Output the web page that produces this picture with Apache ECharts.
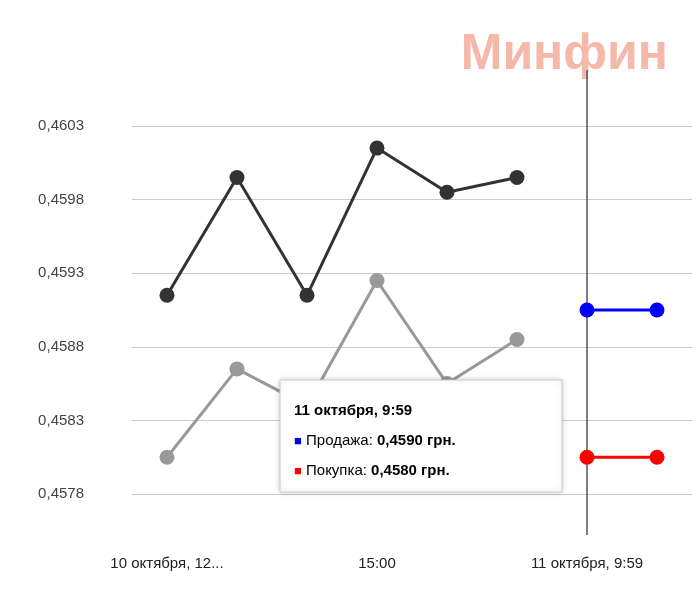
<!DOCTYPE html>
<html><head><meta charset="utf-8">
<script src="https://cdn.jsdelivr.net/npm/echarts@6/dist/echarts.min.js"></script>
<style>html,body{margin:0;padding:0;background:#fff}#c{width:700px;height:590px}</style>
</head><body><div id="c"></div>
<script>
const categories = ['10 октября, 12...', '', '', '15:00', '', '', '11 октября, 9:59', ''];
const seriesDark = [0.45915, 0.45995, 0.45915, 0.46015, 0.45985, 0.45995, null, null];
const seriesGray = [0.45805, 0.45865, 0.4584, 0.45925, 0.45855, 0.45885, null, null];
const sellValues = [null, null, null, null, null, null, 0.45905, 0.45905];
const buyValues = [null, null, null, null, null, null, 0.45805, 0.45805];
const yTicks = [0.4578, 0.4583, 0.4588, 0.4593, 0.4598, 0.4603];

const chart = echarts.init(document.getElementById('c'));
const mk = (data, color) => ({type:'line', data, connectNulls:false, symbol:'circle', symbolSize:15,
  lineStyle:{color, width:3}, itemStyle:{color}, animation:false});
chart.setOption({
  animation:false,
  grid:{left:132, right:8, top:126, bottom:96},
  xAxis:{type:'category', data:categories, boundaryGap:true,
    axisLine:{show:false}, axisTick:{show:false},
    axisLabel:{interval:0, margin:62, color:'#222', fontSize:15, fontFamily:'Arial'}},
  yAxis:{type:'value', min:yTicks[0], max:yTicks[yTicks.length-1], interval:0.0005,
    axisLabel:{color:'#444', fontSize:15, fontFamily:'Arial', margin:48,
      formatter:v=>v.toFixed(4).replace('.', ',')},
    splitLine:{lineStyle:{color:'#ccc', width:1}}},
  series:[mk(seriesGray,'#999999'), mk(seriesDark,'#333333'), mk(sellValues,'#0000ff'), mk(buyValues,'#ff0000')]
});
const x6 = chart.convertToPixel({xAxisIndex:0}, 6);
chart.setOption({graphic:[
  {type:'text', right:32, top:30, style:{text:'Минфин', fontSize:50, fontWeight:'bold', fontFamily:'Arial', fill:'#f6b8a8'}},
  {type:'line', shape:{x1:x6, y1:70, x2:x6, y2:535}, style:{stroke:'#555', lineWidth:1.5}, z:1},
  {type:'rect', shape:{x:280, y:380, width:282, height:112}, style:{fill:'#fff', stroke:'#ccc', lineWidth:1, shadowBlur:6, shadowColor:'rgba(0,0,0,0.2)'}, z:10},
  {type:'text', x:294, y:396, z:11, style:{fill:'#000', fontFamily:'Arial', fontSize:15, lineHeight:30,
    text:'{b|11 октября, 9:59}\n{bs|■} Продажа: {b|0,4590 грн.}\n{rs|■} Покупка: {b|0,4580 грн.}',
    rich:{b:{fontWeight:'bold', fontSize:15}, bs:{fill:'#0000ff', fontSize:13}, rs:{fill:'#ff0000', fontSize:13}}}}
]});
</script></body></html>
